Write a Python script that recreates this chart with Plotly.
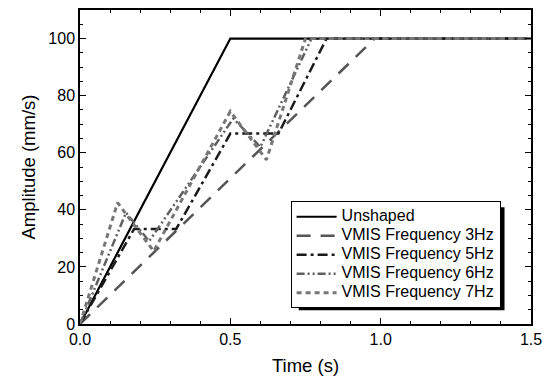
import plotly.graph_objects as go

# Data
unshaped_t = [0.0, 0.5, 1.5]
unshaped_v = [0, 100, 100]
hz3_t = [0.0, 0.98, 1.5]
hz3_v = [0, 100, 100]
hz5_t = [0.0, 0.18, 0.32, 0.5, 0.66, 0.82, 1.5]
hz5_v = [0, 33.3, 33.3, 66.7, 66.7, 100, 100]
hz6_t = [0.0, 0.153, 0.23, 0.51, 0.6, 0.77, 1.5]
hz6_v = [0, 39, 29, 72, 62, 100, 100]
hz7_t = [0.0, 0.125, 0.245, 0.5, 0.62, 0.75, 1.5]
hz7_v = [0, 42.5, 25.5, 74.5, 57.5, 100, 100]

series_names = ["Unshaped", "VMIS Frequency 3Hz", "VMIS Frequency 5Hz",
                "VMIS Frequency 6Hz", "VMIS Frequency 7Hz"]

x_ticks = [0.0, 0.5, 1.0, 1.5]
x_tick_labels = ["0.0", "0.5", "1.0", "1.5"]
y_ticks = [0, 20, 40, 60, 80, 100]

FONT = "Liberation Sans, Arial"


def lname(s):
    return '<span style="font-size:16px">' + s + '</span>'


fig = go.Figure()
fig.add_trace(go.Scatter(x=unshaped_t, y=unshaped_v, mode="lines", name=lname(series_names[0]),
                         line=dict(color="#000000", width=2.2)))
fig.add_trace(go.Scatter(x=hz3_t, y=hz3_v, mode="lines", name=lname(series_names[1]),
                         line=dict(color="#555555", width=2.5, dash="14px,10px")))
fig.add_trace(go.Scatter(x=hz5_t, y=hz5_v, mode="lines", name=lname(series_names[2]),
                         line=dict(color="#1a1a1a", width=2.5, dash="10px,4px,3px,4px")))
fig.add_trace(go.Scatter(x=hz6_t, y=hz6_v, mode="lines", name=lname(series_names[3]),
                         line=dict(color="#606060", width=2.5, dash="8px,3px,2px,3px,2px,3px")))
fig.add_trace(go.Scatter(x=hz7_t, y=hz7_v, mode="lines", name=lname(series_names[4]),
                         line=dict(color="#777777", width=3, dash="5px,4px")))

axis_common = dict(
    showline=True, linecolor="black", linewidth=1.5, mirror="ticks",
    ticks="inside", ticklen=6, tickwidth=1, tickcolor="black",
    showgrid=False, zeroline=False,
    tickfont=dict(family=FONT, size=16, color="black"),
    minor=dict(ticks="inside", ticklen=3, tickcolor="black"),
)

fig.update_xaxes(range=[0, 1.5], tickvals=x_ticks, ticktext=x_tick_labels,
                 title=dict(text="Time (s)", font=dict(family=FONT, size=18.5, color="black"),
                            standoff=12),
                 **axis_common)
fig.update_yaxes(range=[0, 110], tickvals=y_ticks,
                 title=dict(text="Amplitude (mm/s)", font=dict(family=FONT, size=18.5, color="black"),
                            standoff=8),
                 **axis_common)

# legend shadow
fig.add_shape(type="rect", xref="paper", yref="paper",
              x0=0.485, x1=0.9413, y0=0.044, y1=0.372,
              fillcolor="black", line=dict(width=0), layer="above")

fig.update_layout(
    width=551, height=381,
    margin=dict(l=80, r=20, t=8, b=56),
    plot_bgcolor="white", paper_bgcolor="white",
    font=dict(family=FONT, color="black"),
    legend=dict(x=0.467, y=0.391, xanchor="left", yanchor="top",
                bgcolor="white", bordercolor="black", borderwidth=1,
                font=dict(family=FONT, size=11, color="black"),
                tracegroupgap=0, itemwidth=40),
    showlegend=True,
)

fig.write_html("out.html", config={"displayModeBar": False},
               post_script="document.body.style.margin='0';")
